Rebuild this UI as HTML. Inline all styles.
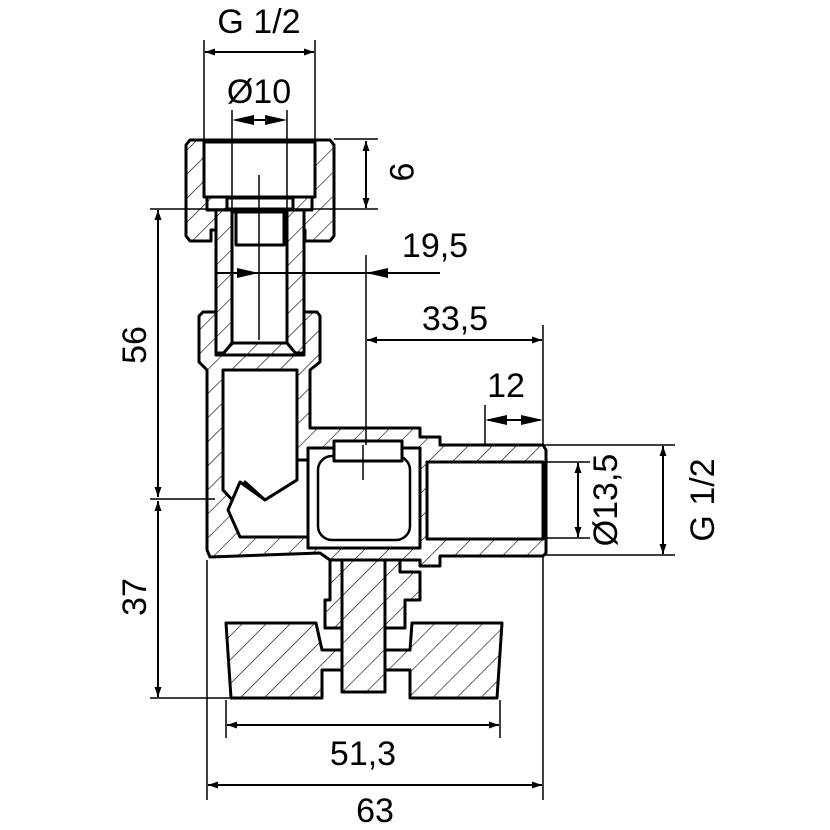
<!DOCTYPE html>
<html><head><meta charset="utf-8"><style>html,body{margin:0;padding:0;background:#fff}svg{display:block}</style></head>
<body>
<svg width="830" height="830" viewBox="0 0 830 830" xmlns="http://www.w3.org/2000/svg">
<defs>
<pattern id="h" patternUnits="userSpaceOnUse" width="17" height="17" patternTransform="rotate(45)">
<rect width="17" height="17" fill="#fff"/><line x1="0" y1="0" x2="0" y2="17" stroke="#000" stroke-width="1.2"/></pattern>
<marker id="a" viewBox="0 0 10 10" refX="10" refY="5" markerWidth="22" markerHeight="10" markerUnits="userSpaceOnUse" orient="auto-start-reverse"><path d="M0,1.5 L10,5 L0,8.5z" fill="#000"/></marker>
</defs>
<g fill="url(#h)" stroke="#000" stroke-width="3" stroke-linejoin="round">
<path d="M190,140 L330,140 L334,145 L334,236 L330,241 L305,241 L305,230 L211,230 L211,241 L190,241 L186,236 L186,145 Z"/>
<rect x="204" y="142" width="111" height="55" fill="#fff"/>
<path d="M207,197 L312,197 L312,210 L207,210 Z"/>
<rect x="227" y="198" width="66" height="11" fill="#fff"/>
<path d="M216,210 L304,210 L304,353 L216,353 Z"/>
<rect x="232" y="212" width="55" height="141" fill="#fff"/>
<rect x="236" y="212" width="48" height="33" fill="#fff"/>
<path d="M232,343 L287,343 L297,355 L222,355 Z"/>
<path d="M203,312 L216,312 L216,355 L304,355 L304,312 L317,312 L320,316 L320,362 L310,370 L310,428 L420,428 L420,437 L440,437 L440,445 L543,445 L546,450 L546,553 L543,556 L440,556 L440,566 L420,566 L420,560 L330,560 L320,553 L210,557 L207,550 L207,370 L199,362 L199,316 Z"/>
<path d="M223,370 L297,370 L297,480 L265,500 L245,482 L237,505 L223,490 Z" fill="#fff"/>
<path d="M297,460 L308,460 L308,537 L240,537 L228,510 L240,482 L265,500 L297,480 Z" fill="#fff"/>
<rect x="308" y="448" width="112" height="100" fill="#fff"/>
<rect x="318" y="456" width="92" height="84" rx="14" fill="#fff" stroke-width="2.5"/>
<rect x="334" y="441" width="68" height="20" fill="#fff"/>
<rect x="427" y="462" width="116" height="77" fill="#fff"/>
<path d="M330,560 L400,560 L400,572 L420,572 L420,600 L405,600 L405,628 L325,628 L325,600 L330,600 Z"/>
<path d="M226,623 L316,623 L322,650 L410,650 L412,623 L502,623 L497,698 L410,698 L410,670 L322,670 L322,698 L231,698 Z"/>
<path d="M342,560 L385,560 L385,692 L342,692 Z"/>
</g>
<g stroke="#000" stroke-width="1.5" fill="none">
<line x1="259" y1="175" x2="259" y2="340"/>
<line x1="363" y1="445" x2="363" y2="480"/>
<line x1="204" y1="40" x2="204" y2="142"/><line x1="315" y1="40" x2="315" y2="142"/>
<line x1="232" y1="110" x2="232" y2="212"/><line x1="287" y1="110" x2="287" y2="212"/>
<line x1="334" y1="139" x2="378" y2="139"/><line x1="150" y1="209" x2="378" y2="209"/>
<line x1="366" y1="255" x2="366" y2="445"/>
<line x1="543" y1="325" x2="543" y2="445"/>
<line x1="485" y1="405" x2="485" y2="445"/>
<line x1="543" y1="445" x2="675" y2="445"/><line x1="543" y1="555" x2="675" y2="555"/>
<line x1="543" y1="462" x2="590" y2="462"/><line x1="543" y1="538" x2="590" y2="538"/>
<line x1="150" y1="499" x2="215" y2="499"/>
<line x1="150" y1="698" x2="231" y2="698"/>
<line x1="207" y1="560" x2="207" y2="800"/><line x1="543" y1="556" x2="543" y2="800"/>
<line x1="226" y1="700" x2="226" y2="738"/><line x1="500" y1="700" x2="500" y2="738"/>
</g>
<g stroke="#000" stroke-width="2" fill="none" marker-start="url(#a)" marker-end="url(#a)">
<line x1="205" y1="52" x2="314" y2="52"/>
<line x1="366" y1="141" x2="366" y2="208"/>
<line x1="158" y1="210" x2="158" y2="497"/>
<line x1="158" y1="501" x2="158" y2="697"/>
<line x1="367" y1="340" x2="542" y2="340"/>
<line x1="578" y1="463" x2="578" y2="537"/>
<line x1="663" y1="446" x2="663" y2="554"/>
<line x1="227" y1="725" x2="499" y2="725"/>
<line x1="208" y1="785" x2="542" y2="785"/>
</g>
<g stroke="#000" stroke-width="2" fill="none">
<line x1="236" y1="120" x2="283" y2="120"/>
<line x1="215" y1="273" x2="440" y2="273"/>
<line x1="488" y1="420" x2="540" y2="420"/>
</g>
<g fill="#000">
<path d="M232,120 l22,-5 v10z M287,120 l-22,-5 v10z"/>
<path d="M259,273 l-22,-5 v10z M366,273 l22,-5 v10z"/>
<path d="M485,420 l22,-5 v10z M543,420 l-22,-5 v10z"/>
</g>
<g font-family="Liberation Sans, sans-serif" font-size="34" fill="#000" text-anchor="middle">
<text x="259" y="33">G 1/2</text>
<text x="259" y="103">Ø10</text>
<text x="435" y="257">19,5</text>
<text x="455" y="330">33,5</text>
<text x="506" y="397">12</text>
<text x="363" y="765">51,3</text>
<text x="375" y="822">63</text>
<text transform="translate(390,172) rotate(90)">9</text>
<text transform="translate(146,345) rotate(-90)">56</text>
<text transform="translate(146,597) rotate(-90)">37</text>
<text transform="translate(617,500) rotate(-90)">Ø13,5</text>
<text transform="translate(714,500) rotate(-90)">G 1/2</text>
</g>
</svg>
</body></html>
